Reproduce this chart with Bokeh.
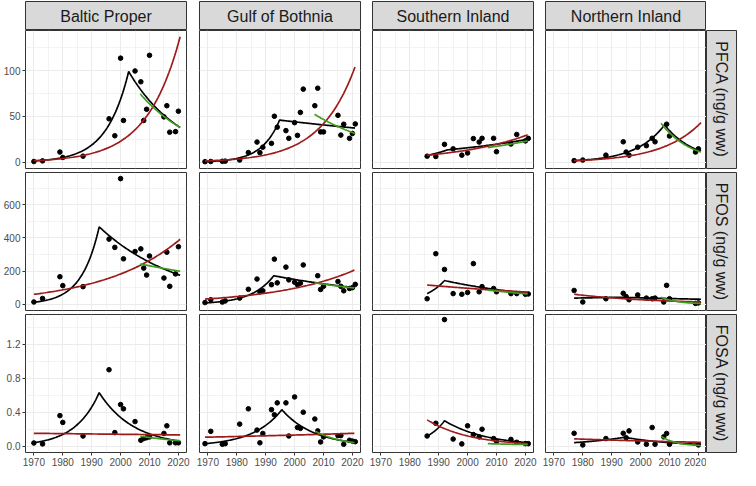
import numpy as np
from bokeh.plotting import figure
from bokeh.layouts import column, row
from bokeh.models import Range1d, FixedTicker, Label, Grid, LinearAxis, Spacer, NumeralTickFormatter
from bokeh.embed import file_html
from bokeh.resources import INLINE

# ---------------- categories / ticks ----------------
locations = ["Baltic Proper", "Gulf of Bothnia", "Southern Inland", "Northern Inland"]
compounds = ["PFCA (ng/g ww)", "PFOS (ng/g ww)", "FOSA (ng/g ww)"]
x_ticks = [1970, 1980, 1990, 2000, 2010, 2020]
x_minor = [1965, 1975, 1985, 1995, 2005, 2015, 2025]
y_ticks = [[0, 50, 100], [0, 200, 400, 600], [0.0, 0.4, 0.8, 1.2]]
y_minor = [[25, 75, 125], [100, 300, 500, 700], [0.2, 0.6, 1.0, 1.4]]
x_limits = (1967.1, 2022.8)
y_limits = [(-6.85, 143.8), (-37.9, 795.0), (-0.074, 1.55)]

# ---------------- sample years per location ----------------
bp_year = [1970, 1973, 1979, 1980, 1987, 1996, 1998, 2000, 2001, 2005, 2007, 2008, 2009, 2010, 2015, 2016, 2017, 2019, 2020]
gb_year = [1969, 1971, 1975, 1976, 1981, 1984, 1987, 1988, 1989, 1992, 1993, 1994, 1997, 1998, 2000, 2001, 2002, 2003,
           2007, 2008, 2009, 2010, 2015, 2016, 2017, 2019, 2020, 2021]
si_year = [1986, 1989, 1992, 1995, 1998, 2000, 2002, 2004, 2005, 2009, 2010, 2015, 2017, 2020, 2021]
ni_year = [1977, 1980, 1988, 1994, 1995, 1996, 1999, 2002, 2004, 2005, 2008, 2009, 2010, 2019, 2020]

# ---------------- measured concentrations (None = no sample) ----------------
bp_pfca = [0.8, 1.5, 11.1, 5.2, 6.6, 47.4, 28.9, 113.6, 45.6, 99.6, 87.8, 45.6, 57.8, 116.7, 49.5, 61.7, 32.8, 33.4, 55.7]
bp_pfos = [13.5, 34.7, 166, 112, 106, 393, 343, 758, 274, 318, 334, 218, 176, 291, 158, 314, 108, 183, 347]
bp_fosa = [0.038, 0.027, 0.36, 0.28, 0.12, 0.90, 0.16, 0.49, 0.44, 0.29, 0.07, 0.09, 0.10, 0.11, 0.15, 0.24, 0.04, 0.04, 0.04]

gb_pfca = [0.6, 0.8, 1.0, 1.2, 2.4, 10.5, 22.0, 10.5, 16.4, 20.6, 50.2, 38.3, 34.5, 26.1, 43.2, 29.3, 54.4, 79.8,
           61.7, 80.8, 33.1, 33.1, 51.2, 29.6, 41.5, 26.1, 31.4, 41.8]
gb_pfos = [10, 27, 13, 20, 37, 90, 152, 75, 81, 118, 272, 129, 224, 147, 133, 118, 127, 237,
           None, 172, 89, 108, 137, 108, 81, 95, 100, 120]
gb_fosa = [0.03, 0.175, 0.023, 0.03, 0.26, 0.44, 0.19, 0.04, 0.15, 0.43, 0.37, 0.51, 0.51, 0.12, 0.58, 0.22, 0.21, 0.40,
           0.32, 0.18, 0.05, 0.11, 0.125, 0.125, 0.023, 0.07, 0.06, 0.053]

si_pfca = [6.6, 6.3, 19.5, 14.6, 7.7, 10.1, 25.8, 22.0, 26.1, 26.1, 11.5, 19.9, 30.3, 23.3, 26.0]
si_pfos = [33, 305, 210, 64, 60, 71, 245, 75, 106, 95, 75, 64, 64, 60, 62]
si_fosa = [0.12, 0.27, 1.49, 0.084, 0.027, 0.24, 0.137, 0.11, 0.20, 0.09, 0.06, 0.08, 0.046, 0.03, 0.03]

ni_pfca = [1.7, 2.4, 7.7, 22.3, 11.1, 7.7, 16.4, 18.1, 26.1, 22.3, None, 41.5, 28.6, 11.1, 14.6]
ni_pfos = [83, 13.5, 33, 66, 46, 27, 56, 37, 33, 37, 13.5, 114, 33, 5, 8]
ni_fosa = [0.152, 0.015, 0.09, 0.152, 0.10, 0.18, 0.05, 0.023, 0.22, 0.023, 0.11, 0.15, 0.023, None, 0.015]

# ---------------- fitted log-linear trends: node years / node values ----------------
# black: change-point model (start, peak, end); red: whole-period trend; green: last-decade trend
bp_pfca_black_x, bp_pfca_black_y = [1970, 2002.8, 2020.6], [1.4, 99, 38]
bp_pfca_red_x, bp_pfca_red_y = [1970, 2020.6], [1.7, 137]
bp_pfca_green_x, bp_pfca_green_y = [2006.8, 2020.6], [74.6, 38]
bp_pfos_black_x, bp_pfos_black_y = [1969.8, 1992.6, 2020.6], [11.6, 467, 175]
bp_pfos_red_x, bp_pfos_red_y = [1970, 2020.6], [60, 392]
bp_pfos_green_x, bp_pfos_green_y = [2006.8, 2020.6], [243, 199]
bp_fosa_black_x, bp_fosa_black_y = [1970, 1992.6, 2020.6], [0.042, 0.63, 0.06]
bp_fosa_red_x, bp_fosa_red_y = [1970, 2020.6], [0.152, 0.133]
bp_fosa_green_x, bp_fosa_green_y = [2006.8, 2020.6], [0.118, 0.065]

gb_pfca_black_x, gb_pfca_black_y = [1969, 1994.8, 2020.9], [0.7, 46, 37.3]
gb_pfca_red_x, gb_pfca_red_y = [1969, 2020.9], [1.4, 104]
gb_pfca_green_x, gb_pfca_green_y = [2006.9, 2020.9], [52.3, 31.4]
gb_pfos_black_x, gb_pfos_black_y = [1969, 1992.8, 2020.7], [7.7, 172, 100]
gb_pfos_red_x, gb_pfos_red_y = [1969, 2020.7], [31, 206]
gb_pfos_green_x, gb_pfos_green_y = [2006.9, 2020.7], [129, 98]
gb_fosa_black_x, gb_fosa_black_y = [1969, 1995.6, 2020.7], [0.03, 0.43, 0.045]
gb_fosa_red_x, gb_fosa_red_y = [1969, 2020.7], [0.106, 0.152]
gb_fosa_green_x, gb_fosa_green_y = [2007.1, 2020.7], [0.18, 0.042]

si_pfca_black_x, si_pfca_black_y = [1986, 1993, 2020.8], [7.5, 13.5, 25]
si_pfca_red_x, si_pfca_red_y = [1986, 2020.8], [7.7, 30]
si_pfca_green_x, si_pfca_green_y = [2007, 2020.8], [16, 23.3]
si_pfos_black_x, si_pfos_black_y = [1986, 1992, 2020.8], [64, 143, 66]
si_pfos_red_x, si_pfos_red_y = [1986, 2020.8], [116, 73]
si_pfos_green_x, si_pfos_green_y = [2007, 2020.8], [85, 62]
si_fosa_black_x, si_fosa_black_y = [1986, 1992, 2020.8], [0.12, 0.30, 0.042]
si_fosa_red_x, si_fosa_red_y = [1986, 2020.8], [0.31, 0.03]
si_fosa_green_x, si_fosa_green_y = [2007, 2020.8], [0.03, 0.019]

ni_pfca_black_x, ni_pfca_black_y = [1977, 2008.3, 2020.9], [1.7, 40.8, 12]
ni_pfca_red_x, ni_pfca_red_y = [1977, 2020.9], [1.7, 43.2]
ni_pfca_green_x, ni_pfca_green_y = [2007.1, 2020.9], [42.5, 11.1]
ni_pfos_black_x, ni_pfos_black_y = [1977, 1993, 2020.9], [37, 42, 30]
ni_pfos_red_x, ni_pfos_red_y = [1977, 2020.9], [60, 13.5]
ni_pfos_green_x, ni_pfos_green_y = [2007.1, 2020.9], [42, 4]
ni_fosa_black_x, ni_fosa_black_y = [1977, 1994.5, 2020.9], [0.042, 0.106, 0.022]
ni_fosa_red_x, ni_fosa_red_y = [1977, 2020.9], [0.087, 0.046]
ni_fosa_green_x, ni_fosa_green_y = [2007.1, 2020.9], [0.118, 0.008]

# ---------------- assemble ----------------
years = [bp_year, gb_year, si_year, ni_year]
values = [[bp_pfca, gb_pfca, si_pfca, ni_pfca],
          [bp_pfos, gb_pfos, si_pfos, ni_pfos],
          [bp_fosa, gb_fosa, si_fosa, ni_fosa]]
trends = [
    [[(bp_pfca_black_x, bp_pfca_black_y), (bp_pfca_red_x, bp_pfca_red_y), (bp_pfca_green_x, bp_pfca_green_y)],
     [(gb_pfca_black_x, gb_pfca_black_y), (gb_pfca_red_x, gb_pfca_red_y), (gb_pfca_green_x, gb_pfca_green_y)],
     [(si_pfca_black_x, si_pfca_black_y), (si_pfca_red_x, si_pfca_red_y), (si_pfca_green_x, si_pfca_green_y)],
     [(ni_pfca_black_x, ni_pfca_black_y), (ni_pfca_red_x, ni_pfca_red_y), (ni_pfca_green_x, ni_pfca_green_y)]],
    [[(bp_pfos_black_x, bp_pfos_black_y), (bp_pfos_red_x, bp_pfos_red_y), (bp_pfos_green_x, bp_pfos_green_y)],
     [(gb_pfos_black_x, gb_pfos_black_y), (gb_pfos_red_x, gb_pfos_red_y), (gb_pfos_green_x, gb_pfos_green_y)],
     [(si_pfos_black_x, si_pfos_black_y), (si_pfos_red_x, si_pfos_red_y), (si_pfos_green_x, si_pfos_green_y)],
     [(ni_pfos_black_x, ni_pfos_black_y), (ni_pfos_red_x, ni_pfos_red_y), (ni_pfos_green_x, ni_pfos_green_y)]],
    [[(bp_fosa_black_x, bp_fosa_black_y), (bp_fosa_red_x, bp_fosa_red_y), (bp_fosa_green_x, bp_fosa_green_y)],
     [(gb_fosa_black_x, gb_fosa_black_y), (gb_fosa_red_x, gb_fosa_red_y), (gb_fosa_green_x, gb_fosa_green_y)],
     [(si_fosa_black_x, si_fosa_black_y), (si_fosa_red_x, si_fosa_red_y), (si_fosa_green_x, si_fosa_green_y)],
     [(ni_fosa_black_x, ni_fosa_black_y), (ni_fosa_red_x, ni_fosa_red_y), (ni_fosa_green_x, ni_fosa_green_y)]],
]

# ---------------- styling ----------------
FONT = "Liberation Sans"
LINE_COLORS = ["#000000", "#9E1B1B", "#3F9B1F"]
FW, FH = 161, 138
col_left = [25, 7, 6, 6]
col_right = [6, 6, 6, 0]
row_top = [0, 2, 2]
row_bottom = [2, 2, 18]
STRIP_H = 29
STRIP_W = 30


def log_linear_path(xs, ys, n=80):
    px, py = [], []
    for k in range(len(xs) - 1):
        px.extend(np.linspace(xs[k], xs[k + 1], n))
        py.extend(np.geomspace(ys[k], ys[k + 1], n))
    return px, py


def style_axis(ax):
    ax.axis_line_color = None
    ax.major_tick_out = 3
    ax.major_tick_in = 0
    ax.minor_tick_out = 0
    ax.minor_tick_in = 0
    ax.minor_tick_line_color = None
    ax.major_tick_line_color = "#333333"
    ax.major_label_text_font = FONT
    ax.major_label_text_font_size = "10px"
    ax.major_label_text_color = "#4d4d4d"
    ax.major_label_standoff = 2


def strip_fig(w, h, left, right, top, bottom, text, angle=0.0):
    s = figure(width=w, height=h, x_range=Range1d(0, 1), y_range=Range1d(0, 1),
               x_axis_type=None, y_axis_type=None, toolbar_location=None, output_backend="svg",
               min_border_left=left, min_border_right=right, min_border_top=top, min_border_bottom=bottom)
    s.background_fill_color = "#d9d9d9"
    s.border_fill_color = "white"
    s.outline_line_color = "#333333"
    s.outline_line_width = 1
    s.add_layout(Label(x=0.5, y=0.5, text=text, text_align="center", text_baseline="middle",
                       angle=angle, text_font=FONT, text_font_size="16px", text_color="#1a1a1a"))
    return s


rows = []
top_strips = []
for j, loc in enumerate(locations):
    top_strips.append(strip_fig(col_left[j] + FW + col_right[j], STRIP_H + 1, col_left[j], col_right[j], 1, 0, loc))
top_strips.append(Spacer(width=STRIP_W + 1, height=STRIP_H + 1))
rows.append(row(*top_strips, spacing=0))

for i, comp in enumerate(compounds):
    figs = []
    for j, loc in enumerate(locations):
        p = figure(width=col_left[j] + FW + col_right[j], height=row_top[i] + FH + row_bottom[i],
                   x_range=Range1d(*x_limits), y_range=Range1d(*y_limits[i]),
                   x_axis_type=None, y_axis_type=None, toolbar_location=None, output_backend="svg",
                   min_border_left=col_left[j], min_border_right=col_right[j],
                   min_border_top=row_top[i], min_border_bottom=row_bottom[i])
        p.background_fill_color = "white"
        p.border_fill_color = "white"
        p.outline_line_color = "#333333"
        p.outline_line_width = 1
        xt = FixedTicker(ticks=x_ticks, minor_ticks=x_minor)
        yt = FixedTicker(ticks=y_ticks[i], minor_ticks=y_minor[i])
        for dim, tk in ((0, xt), (1, yt)):
            p.add_layout(Grid(dimension=dim, ticker=tk, grid_line_color="#ebebeb", grid_line_width=1.1,
                              minor_grid_line_color="#ebebeb", minor_grid_line_width=0.6), "center")
        if i == len(compounds) - 1:
            ax = LinearAxis(ticker=xt)
            style_axis(ax)
            p.add_layout(ax, "below")
        if j == 0:
            ay = LinearAxis(ticker=yt)
            style_axis(ay)
            if i == 2:
                ay.formatter = NumeralTickFormatter(format="0.0")
            else:
                ay.formatter = NumeralTickFormatter(format="0")
            p.add_layout(ay, "left")

        yr = [y for y, v in zip(years[j], values[i][j]) if v is not None]
        vv = [v for v in values[i][j] if v is not None]
        p.scatter(yr, vv, size=4.6, color="black")
        for (tx, ty), col in zip(trends[i][j], LINE_COLORS):
            lx, ly = log_linear_path(tx, ty)
            p.line(lx, ly, line_color=col, line_width=1.7)
        figs.append(p)
    figs.append(strip_fig(STRIP_W + 1, row_top[i] + FH + row_bottom[i], 0, 1, row_top[i], row_bottom[i],
                          comp, angle=-np.pi / 2))
    rows.append(row(*figs, spacing=0))

layout = column(*rows, spacing=0)
open("out.html", "w").write(file_html(layout, INLINE))
